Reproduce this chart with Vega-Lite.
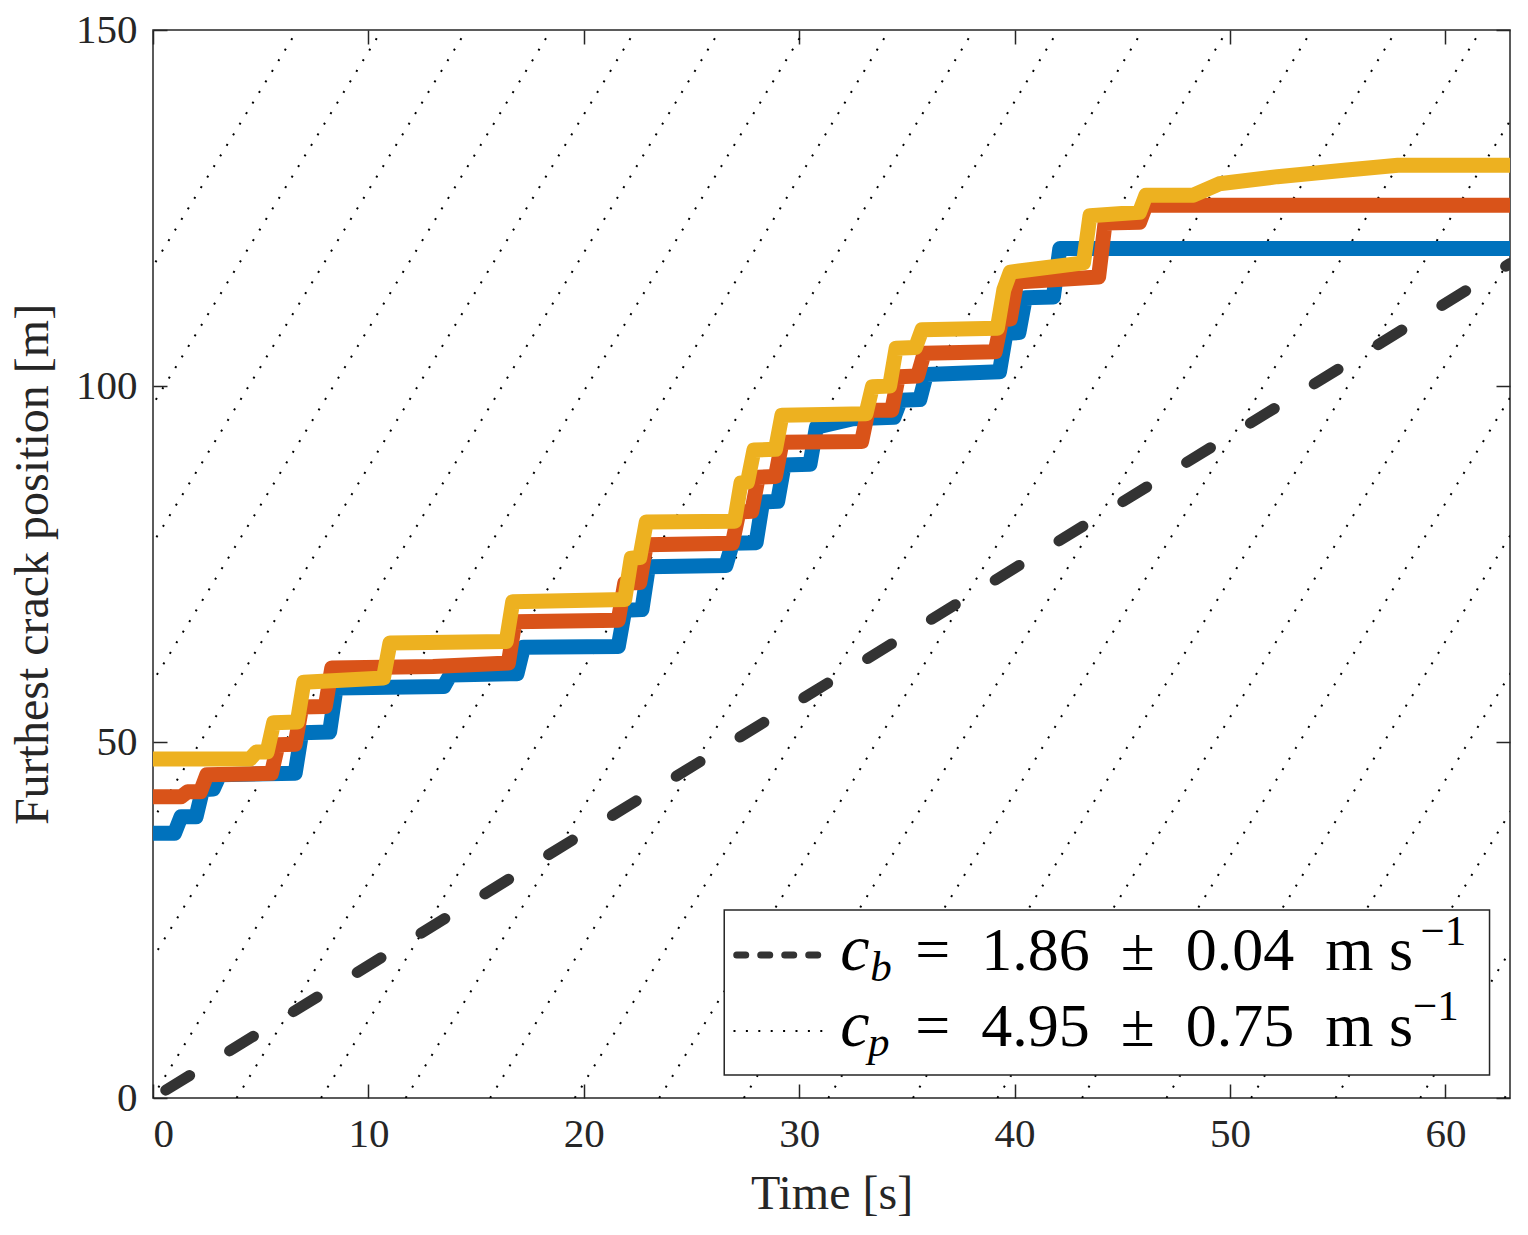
{
  "$schema": "https://vega.github.io/schema/vega-lite/v6.json",
  "width": 1357,
  "height": 1068,
  "autosize": {"type": "none"},
  "padding": {"left": 153, "top": 30, "right": 18, "bottom": 137},
  "background": "white",
  "config": {
    "font": "Liberation Serif",
    "view": {"stroke": "#262626", "strokeWidth": 1.5},
    "axis": {
      "grid": false,
      "domain": false,
      "labelFont": "Liberation Serif",
      "labelFontSize": 41,
      "labelColor": "#262626",
      "titleFont": "Liberation Serif",
      "titleFontSize": 48,
      "titleFontWeight": "normal",
      "titleColor": "#262626",
      "tickColor": "#262626",
      "tickWidth": 1.5
    }
  },
  "datasets": {
    "crack": [
      {"s": "A", "t": 0, "v": 37.2}, {"s": "A", "t": 1.0, "v": 37.2}, {"s": "A", "t": 1.3, "v": 39.5}, {"s": "A", "t": 2.0, "v": 39.5},
      {"s": "A", "t": 2.3, "v": 43.3}, {"s": "A", "t": 2.8, "v": 43.4}, {"s": "A", "t": 3.1, "v": 45.4}, {"s": "A", "t": 6.6, "v": 45.6},
      {"s": "A", "t": 6.9, "v": 51.3}, {"s": "A", "t": 8.2, "v": 51.4}, {"s": "A", "t": 8.5, "v": 57.6}, {"s": "A", "t": 13.5, "v": 57.8},
      {"s": "A", "t": 13.8, "v": 59.4}, {"s": "A", "t": 16.9, "v": 59.6}, {"s": "A", "t": 17.2, "v": 63.3}, {"s": "A", "t": 21.6, "v": 63.4},
      {"s": "A", "t": 21.9, "v": 68.5}, {"s": "A", "t": 22.7, "v": 68.6}, {"s": "A", "t": 23.0, "v": 74.6}, {"s": "A", "t": 26.6, "v": 74.8},
      {"s": "A", "t": 26.9, "v": 77.9}, {"s": "A", "t": 28.0, "v": 78.0}, {"s": "A", "t": 28.3, "v": 83.7}, {"s": "A", "t": 29.0, "v": 83.8},
      {"s": "A", "t": 29.3, "v": 88.9}, {"s": "A", "t": 30.5, "v": 89.0}, {"s": "A", "t": 30.8, "v": 94.2}, {"s": "A", "t": 32.5, "v": 95.4},
      {"s": "A", "t": 34.4, "v": 95.6}, {"s": "A", "t": 34.7, "v": 98.0}, {"s": "A", "t": 35.6, "v": 98.1}, {"s": "A", "t": 35.9, "v": 101.6},
      {"s": "A", "t": 39.3, "v": 102.0}, {"s": "A", "t": 39.6, "v": 107.4}, {"s": "A", "t": 40.2, "v": 107.5}, {"s": "A", "t": 40.5, "v": 112.4},
      {"s": "A", "t": 41.8, "v": 112.5}, {"s": "A", "t": 42.1, "v": 119.3}, {"s": "A", "t": 63, "v": 119.3},
      {"s": "B", "t": 0, "v": 42.3}, {"s": "B", "t": 1.3, "v": 42.3}, {"s": "B", "t": 1.6, "v": 43.0}, {"s": "B", "t": 2.2, "v": 43.0},
      {"s": "B", "t": 2.5, "v": 45.4}, {"s": "B", "t": 5.5, "v": 45.6}, {"s": "B", "t": 5.8, "v": 49.6}, {"s": "B", "t": 6.6, "v": 49.7},
      {"s": "B", "t": 6.9, "v": 54.9}, {"s": "B", "t": 8.0, "v": 55.0}, {"s": "B", "t": 8.3, "v": 60.4}, {"s": "B", "t": 13.0, "v": 60.6},
      {"s": "B", "t": 16.5, "v": 61.1}, {"s": "B", "t": 16.8, "v": 66.9}, {"s": "B", "t": 21.6, "v": 67.1}, {"s": "B", "t": 21.9, "v": 72.3},
      {"s": "B", "t": 22.6, "v": 72.4}, {"s": "B", "t": 22.9, "v": 77.7}, {"s": "B", "t": 26.9, "v": 77.9}, {"s": "B", "t": 27.2, "v": 82.3},
      {"s": "B", "t": 27.8, "v": 82.4}, {"s": "B", "t": 28.1, "v": 87.2}, {"s": "B", "t": 28.9, "v": 87.3}, {"s": "B", "t": 29.2, "v": 92.1},
      {"s": "B", "t": 32.9, "v": 92.2}, {"s": "B", "t": 33.2, "v": 96.6}, {"s": "B", "t": 34.3, "v": 96.6}, {"s": "B", "t": 34.6, "v": 101.3},
      {"s": "B", "t": 35.5, "v": 101.4}, {"s": "B", "t": 35.8, "v": 104.6}, {"s": "B", "t": 39.1, "v": 104.8}, {"s": "B", "t": 39.4, "v": 109.3},
      {"s": "B", "t": 39.8, "v": 109.4}, {"s": "B", "t": 40.1, "v": 114.6}, {"s": "B", "t": 43.9, "v": 115.3}, {"s": "B", "t": 44.2, "v": 122.9},
      {"s": "B", "t": 45.8, "v": 123.0}, {"s": "B", "t": 46.1, "v": 125.4}, {"s": "B", "t": 63, "v": 125.4},
      {"s": "C", "t": 0, "v": 47.6}, {"s": "C", "t": 4.5, "v": 47.6}, {"s": "C", "t": 4.8, "v": 48.6}, {"s": "C", "t": 5.3, "v": 48.6},
      {"s": "C", "t": 5.6, "v": 52.7}, {"s": "C", "t": 6.7, "v": 52.8}, {"s": "C", "t": 7.0, "v": 58.4}, {"s": "C", "t": 10.7, "v": 59.0},
      {"s": "C", "t": 11.0, "v": 63.9}, {"s": "C", "t": 16.4, "v": 64.1}, {"s": "C", "t": 16.7, "v": 69.7}, {"s": "C", "t": 21.9, "v": 70.0},
      {"s": "C", "t": 22.2, "v": 75.8}, {"s": "C", "t": 22.6, "v": 75.9}, {"s": "C", "t": 22.9, "v": 80.9}, {"s": "C", "t": 27.0, "v": 81.0},
      {"s": "C", "t": 27.3, "v": 86.4}, {"s": "C", "t": 27.6, "v": 86.5}, {"s": "C", "t": 27.9, "v": 91.0}, {"s": "C", "t": 28.9, "v": 91.1},
      {"s": "C", "t": 29.2, "v": 95.9}, {"s": "C", "t": 33.1, "v": 96.1}, {"s": "C", "t": 33.4, "v": 99.9}, {"s": "C", "t": 34.2, "v": 100.0},
      {"s": "C", "t": 34.5, "v": 105.3}, {"s": "C", "t": 35.4, "v": 105.4}, {"s": "C", "t": 35.7, "v": 107.9}, {"s": "C", "t": 39.2, "v": 108.1},
      {"s": "C", "t": 39.5, "v": 113.5}, {"s": "C", "t": 39.8, "v": 116.0}, {"s": "C", "t": 43.2, "v": 117.3}, {"s": "C", "t": 43.5, "v": 123.9},
      {"s": "C", "t": 45.8, "v": 124.4}, {"s": "C", "t": 46.1, "v": 126.8}, {"s": "C", "t": 48.3, "v": 126.8}, {"s": "C", "t": 49.5, "v": 128.4},
      {"s": "C", "t": 52.2, "v": 129.4}, {"s": "C", "t": 55.3, "v": 130.3}, {"s": "C", "t": 57.8, "v": 131.0}, {"s": "C", "t": 63, "v": 131.0}
    ],
    "phase": [
      {"t0": -23.6, "t1": 6.7}, {"t0": -19.68, "t1": 10.62}, {"t0": -15.75, "t1": 14.55}, {"t0": -11.83, "t1": 18.48},
      {"t0": -7.9, "t1": 22.4}, {"t0": -3.98, "t1": 26.32}, {"t0": -0.05, "t1": 30.25}, {"t0": 3.88, "t1": 34.18},
      {"t0": 7.8, "t1": 38.1}, {"t0": 11.73, "t1": 42.03}, {"t0": 15.65, "t1": 45.95}, {"t0": 19.58, "t1": 49.88},
      {"t0": 23.5, "t1": 53.8}, {"t0": 27.43, "t1": 57.73}, {"t0": 31.35, "t1": 61.65}, {"t0": 35.28, "t1": 65.58},
      {"t0": 39.2, "t1": 69.5}, {"t0": 43.13, "t1": 73.43}, {"t0": 47.05, "t1": 77.35}, {"t0": 50.98, "t1": 81.28},
      {"t0": 54.9, "t1": 85.2}, {"t0": 58.83, "t1": 89.13}, {"t0": 62.75, "t1": 93.05}
    ],
    "bulk": [{"t": 0, "v": 0}, {"t": 63, "v": 117.2}]
  },
  "layer": [
    {
      "data": {"name": "phase"},
      "mark": {"type": "rule", "color": "#000000", "strokeWidth": 2, "strokeDash": [2, 10.4], "clip": true},
      "encoding": {
        "x": {"field": "t0", "type": "quantitative", "scale": {"domain": [0, 63], "nice": false},
          "axis": {"orient": "bottom", "values": [0, 10, 20, 30, 40, 50, 60], "ticks": false, "labelPadding": 16, "title": "Time [s]", "titlePadding": 16}},
        "x2": {"field": "t1"},
        "y": {"datum": 0, "type": "quantitative", "scale": {"domain": [0, 150], "nice": false},
          "axis": {"orient": "left", "values": [0, 50, 100, 150], "ticks": false, "labelPadding": 16, "title": "Furthest crack position [m]", "titlePadding": 18}},
        "y2": {"datum": 150}
      }
    },
    {
      "data": {"name": "crack"},
      "mark": {"type": "line", "strokeWidth": 15, "strokeJoin": "round", "strokeCap": "round", "clip": true},
      "encoding": {
        "x": {"field": "t", "type": "quantitative", "scale": {"domain": [0, 63], "nice": false},
          "axis": {"orient": "bottom", "values": [0, 10, 20, 30, 40, 50, 60], "labels": false, "tickSize": -14, "title": null}},
        "y": {"field": "v", "type": "quantitative", "scale": {"domain": [0, 150], "nice": false},
          "axis": {"orient": "left", "values": [0, 50, 100, 150], "labels": false, "tickSize": -14, "title": null}},
        "color": {"field": "s", "type": "nominal", "scale": {"domain": ["A", "B", "C"], "range": ["#0072BD", "#D95319", "#EDB120"]}, "legend": null}
      }
    },
    {
      "data": {"name": "bulk"},
      "mark": {"type": "line", "color": "#333333", "strokeWidth": 11, "strokeCap": "round", "strokeDash": [28, 46.9], "strokeDashOffset": 59.9, "clip": true},
      "encoding": {
        "x": {"field": "t", "type": "quantitative", "scale": {"domain": [0, 63], "nice": false},
          "axis": {"orient": "top", "values": [0, 10, 20, 30, 40, 50, 60], "labels": false, "tickSize": -14, "title": null}},
        "y": {"field": "v", "type": "quantitative", "scale": {"domain": [0, 150], "nice": false},
          "axis": {"orient": "right", "values": [0, 50, 100, 150], "labels": false, "tickSize": -14, "title": null}}
      }
    },
    {
      "data": {"values": [{"box": "legend"}]},
      "mark": {"type": "rect", "fill": "white", "stroke": "#262626", "strokeWidth": 1.5},
      "encoding": {
        "x": {"datum": 26.52, "type": "quantitative", "scale": {"domain": [0, 63], "nice": false}, "axis": null},
        "x2": {"datum": 62.05},
        "y": {"datum": 3.23, "type": "quantitative", "scale": {"domain": [0, 150], "nice": false}, "axis": null},
        "y2": {"datum": 26.4}
      }
    },
    {
      "data": {"values": [{"item": "c_b"}]},
      "mark": {"type": "rule", "color": "#333333", "strokeWidth": 7, "strokeCap": "round", "strokeDash": [9, 15]},
      "encoding": {
        "x": {"datum": 27.1, "type": "quantitative", "scale": {"domain": [0, 63], "nice": false}, "axis": null},
        "x2": {"datum": 31.3},
        "y": {"datum": 20.08, "type": "quantitative", "scale": {"domain": [0, 150], "nice": false}, "axis": null}
      }
    },
    {
      "data": {"values": [{"item": "c_p"}]},
      "mark": {"type": "rule", "color": "#000000", "strokeWidth": 2, "strokeDash": [2, 10.4]},
      "encoding": {
        "x": {"datum": 26.95, "type": "quantitative", "scale": {"domain": [0, 63], "nice": false}, "axis": null},
        "x2": {"datum": 31.4},
        "y": {"datum": 9.41, "type": "quantitative", "scale": {"domain": [0, 150], "nice": false}, "axis": null}
      }
    },
    {
      "data": {"values": [{"label": "c"}]},
      "mark": {"type": "text", "font": "Liberation Serif", "fontStyle": "italic", "fontSize": 66, "color": "#000000", "align": "left", "baseline": "alphabetic"},
      "encoding": {
        "x": {"datum": 31.91, "type": "quantitative", "scale": {"domain": [0, 63], "nice": false}, "axis": null},
        "y": {"datum": 17.98, "type": "quantitative", "scale": {"domain": [0, 150], "nice": false}, "axis": null},
        "text": {"field": "label"}
      }
    },
    {
      "data": {"values": [{"label": "b"}]},
      "mark": {"type": "text", "font": "Liberation Serif", "fontStyle": "italic", "fontSize": 43, "color": "#000000", "align": "left", "baseline": "alphabetic"},
      "encoding": {
        "x": {"datum": 33.3, "type": "quantitative", "scale": {"domain": [0, 63], "nice": false}, "axis": null},
        "y": {"datum": 16.4, "type": "quantitative", "scale": {"domain": [0, 150], "nice": false}, "axis": null},
        "text": {"field": "label"}
      }
    },
    {
      "data": {"values": [{"label": "=\u20021.86\u2002±\u20020.04\u2002m s"}]},
      "mark": {"type": "text", "font": "Liberation Serif", "fontSize": 62, "color": "#000000", "align": "left", "baseline": "alphabetic"},
      "encoding": {
        "x": {"datum": 35.39, "type": "quantitative", "scale": {"domain": [0, 63], "nice": false}, "axis": null},
        "y": {"datum": 17.98, "type": "quantitative", "scale": {"domain": [0, 150], "nice": false}, "axis": null},
        "text": {"field": "label"}
      }
    },
    {
      "data": {"values": [{"label": "−1"}]},
      "mark": {"type": "text", "font": "Liberation Serif", "fontSize": 43, "color": "#000000", "align": "left", "baseline": "alphabetic"},
      "encoding": {
        "x": {"datum": 58.85, "type": "quantitative", "scale": {"domain": [0, 63], "nice": false}, "axis": null},
        "y": {"datum": 21.49, "type": "quantitative", "scale": {"domain": [0, 150], "nice": false}, "axis": null},
        "text": {"field": "label"}
      }
    },
    {
      "data": {"values": [{"label": "c"}]},
      "mark": {"type": "text", "font": "Liberation Serif", "fontStyle": "italic", "fontSize": 66, "color": "#000000", "align": "left", "baseline": "alphabetic"},
      "encoding": {
        "x": {"datum": 31.91, "type": "quantitative", "scale": {"domain": [0, 63], "nice": false}, "axis": null},
        "y": {"datum": 7.3, "type": "quantitative", "scale": {"domain": [0, 150], "nice": false}, "axis": null},
        "text": {"field": "label"}
      }
    },
    {
      "data": {"values": [{"label": "p"}]},
      "mark": {"type": "text", "font": "Liberation Serif", "fontStyle": "italic", "fontSize": 43, "color": "#000000", "align": "left", "baseline": "alphabetic"},
      "encoding": {
        "x": {"datum": 33.2, "type": "quantitative", "scale": {"domain": [0, 63], "nice": false}, "axis": null},
        "y": {"datum": 5.9, "type": "quantitative", "scale": {"domain": [0, 150], "nice": false}, "axis": null},
        "text": {"field": "label"}
      }
    },
    {
      "data": {"values": [{"label": "=\u20024.95\u2002±\u20020.75\u2002m s"}]},
      "mark": {"type": "text", "font": "Liberation Serif", "fontSize": 62, "color": "#000000", "align": "left", "baseline": "alphabetic"},
      "encoding": {
        "x": {"datum": 35.39, "type": "quantitative", "scale": {"domain": [0, 63], "nice": false}, "axis": null},
        "y": {"datum": 7.3, "type": "quantitative", "scale": {"domain": [0, 150], "nice": false}, "axis": null},
        "text": {"field": "label"}
      }
    },
    {
      "data": {"values": [{"label": "−1"}]},
      "mark": {"type": "text", "font": "Liberation Serif", "fontSize": 43, "color": "#000000", "align": "left", "baseline": "alphabetic"},
      "encoding": {
        "x": {"datum": 58.5, "type": "quantitative", "scale": {"domain": [0, 63], "nice": false}, "axis": null},
        "y": {"datum": 10.9, "type": "quantitative", "scale": {"domain": [0, 150], "nice": false}, "axis": null},
        "text": {"field": "label"}
      }
    }
  ],
  "resolve": {"axis": {"x": "independent", "y": "independent"}}
}
